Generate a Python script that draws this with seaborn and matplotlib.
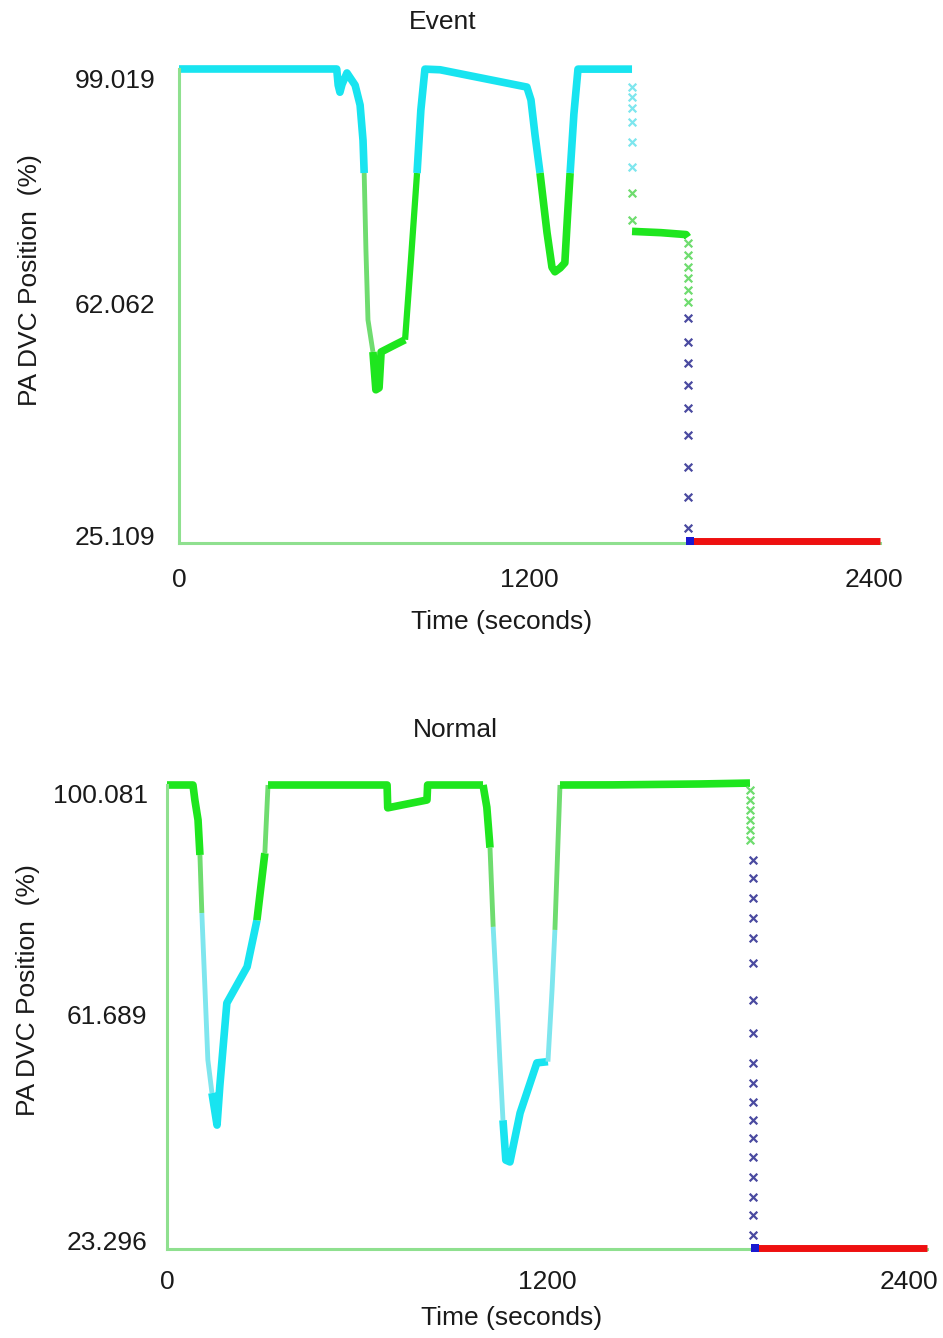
import numpy as np
import matplotlib
matplotlib.use("Agg")
import matplotlib.pyplot as plt
from matplotlib.transforms import ScaledTranslation
import seaborn as sns

# ---------------- data: "Event" ----------------
ev_yticks = [25.109, 62.062, 99.019]
ev_cyan_a_t = [0, 540, 545, 551, 558, 575, 603, 620, 630, 634]
ev_cyan_a_v = [99.02, 99.02, 96.5, 95.4, 96.6, 98.4, 96.5, 93.4, 87.9, 82.8]
ev_green_a_t = [634, 640, 647, 664]
ev_green_a_v = [82.8, 70.8, 59.9, 54.9]
ev_green_b_t = [664, 674, 685, 692, 739, 774]
ev_green_b_v = [54.9, 49.0, 49.3, 54.9, 56.0, 56.8]
ev_green_c_t = [774, 794, 815]
ev_green_c_v = [56.8, 69.2, 82.8]
ev_cyan_b_t = [815, 828, 842, 894, 1191, 1205, 1219, 1236]
ev_cyan_b_v = [82.8, 92.6, 99.0, 98.9, 96.2, 94.2, 88.7, 82.8]
ev_green_d_t = [1236, 1260, 1277, 1287, 1305, 1321, 1330, 1339]
ev_green_d_v = [82.8, 73.5, 68.1, 67.4, 68.0, 68.8, 76.0, 82.8]
ev_cyan_c_t = [1339, 1352, 1366, 1551]
ev_cyan_c_v = [82.8, 92.0, 99.0, 99.0]
ev_drop1_t = 1551
ev_cyan_x_v = [96.2, 94.6, 92.9, 90.8, 87.6, 83.7]
ev_green_x1_v = [79.7, 75.5]
ev_green_e_t = [1551, 1650, 1736, 1742]
ev_green_e_v = [73.7, 73.5, 73.2, 72.8]
ev_drop2_t = 1742
ev_green_x2_v = [71.9, 70.0, 68.1, 66.4, 64.6, 62.7]
ev_blue_x_v = [60.2, 56.4, 53.2, 49.8, 46.2, 42.0, 37.0, 32.3, 27.5]
ev_end_t = 1749
ev_end_v = 25.35
ev_red_t = [1749, 2400]
ev_red_v = [25.35, 25.35]

# ---------------- data: "Normal" ----------------
no_yticks = [23.296, 61.689, 100.081]
no_green_a_t = [0, 82, 88, 98, 104]
no_green_a_v = [100.08, 100.08, 97.6, 94.3, 88.5]
no_green_b_t = [104, 110]
no_green_b_v = [88.5, 78.9]
no_cyan_a_t = [110, 120, 129, 142]
no_cyan_a_v = [78.9, 66.2, 54.6, 49.1]
no_cyan_b_t = [142, 158, 167, 189, 253, 284]
no_cyan_b_v = [49.1, 43.8, 50.4, 64.0, 70.0, 77.7]
no_green_c_t = [284, 309]
no_green_c_v = [77.7, 88.8]
no_green_d_t = [309, 319]
no_green_d_v = [88.8, 100.08]
no_green_e_t = [319, 695, 697, 821, 823, 998]
no_green_e_v = [100.08, 100.08, 96.3, 97.6, 100.08, 100.08]
no_green_f_t = [998, 1010, 1020]
no_green_f_v = [100.08, 96.4, 89.7]
no_green_g_t = [1020, 1030]
no_green_g_v = [89.7, 76.6]
no_cyan_c_t = [1030, 1042, 1051, 1061]
no_cyan_c_v = [76.6, 64.5, 54.6, 44.6]
no_cyan_d_t = [1061, 1070, 1083, 1115, 1168, 1203]
no_cyan_d_v = [44.6, 38.0, 37.7, 45.8, 54.1, 54.3]
no_cyan_e_t = [1203, 1216, 1225]
no_cyan_e_v = [54.3, 66.2, 76.1]
no_green_h_t = [1225, 1241]
no_green_h_v = [76.1, 100.08]
no_green_i_t = [1241, 1408, 1683, 1841]
no_green_i_v = [100.08, 100.1, 100.25, 100.4]
no_drop_green_t = 1841
no_green_x_v = [99.25, 97.6, 95.9, 94.3, 92.6, 91.0]
no_drop_blue_t = 1850
no_blue_x_v = [87.67, 84.69, 81.38, 78.07, 74.76, 70.62, 64.50, 59.04, 54.04,
               50.73, 47.62, 44.64, 41.62, 38.52, 35.21, 31.90, 28.92, 25.61]
no_end_t = 1857
no_end_v = 23.46
no_red_t = [1857, 2400]
no_red_v = [23.46, 23.46]

x_ticks = [0, 1200, 2400]

# ---------------- style ----------------
sns.set_theme(style="white")
plt.rcParams["font.family"] = ["Liberation Sans", "DejaVu Sans"]

GREEN = "#1ee61e"
GREEN_L = "#6fdc6f"
CYAN = "#18e4f0"
CYAN_L = "#7ee6ee"
BLUE = "#4a4aa0"
BLUE_SQ = "#1a1ad0"
RED = "#ee1010"
SPINE = "#8fe08f"
FS = 19
LW = 5.5

W, H = 943, 1338
fig = plt.figure(figsize=(W / 100, H / 100), dpi=100)


def px_axes(l, r, top, bot):
    return fig.add_axes([l / W, 1 - bot / H, (r - l) / W, (bot - top) / H])


def seg(ax, t, v, color, lw=LW, alpha=1.0, z=2):
    sns.lineplot(x=t, y=v, ax=ax, color=color, lw=lw, alpha=alpha,
                 sort=False, estimator=None, clip_on=False,
                 solid_capstyle="butt", zorder=z)


def xmarks(ax, t, v, color, size=30):
    sns.scatterplot(x=np.full(len(v), t), y=v, ax=ax, marker="x",
                    color=color, s=size, linewidth=1.6, clip_on=False,
                    zorder=4)


def shift(text, dx_px, dy_px):
    text.set_transform(text.get_transform() +
                       ScaledTranslation(dx_px / 100, dy_px / 100, fig.dpi_scale_trans))


def style_axes(ax, yticks, ypad, xpad, dy_top, dy_bot, dx_last):
    ax.set_xlim(0, 2400)
    ax.set_ylim(yticks[0], yticks[-1])
    for s in ["top", "right"]:
        ax.spines[s].set_visible(False)
    for s in ["left", "bottom"]:
        ax.spines[s].set_color(SPINE)
        ax.spines[s].set_linewidth(2.2)
    ax.set_xticks(x_ticks)
    ax.set_xticklabels([str(v) for v in x_ticks])
    ax.set_yticks(yticks)
    ax.set_yticklabels([f"{v:.3f}" for v in yticks])
    ax.tick_params(axis="both", which="major", direction="out", length=3,
                   width=1.5, color=SPINE, labelsize=FS, labelcolor="#1a1a1a")
    ax.tick_params(axis="y", pad=ypad)
    ax.tick_params(axis="x", pad=xpad)
    ax.set_xlabel("")
    ax.set_ylabel("")
    ax.grid(False)
    yt = ax.yaxis.get_major_ticks()
    shift(yt[0].label1, 0, dy_bot)
    shift(yt[-1].label1, 0, dy_top)
    xt = ax.xaxis.get_major_ticks()
    shift(xt[-1].label1, dx_last, 0)
    ax.set_facecolor("white")


# ---------------- Event ----------------
ax1 = px_axes(179, 880, 69, 543)
seg(ax1, ev_cyan_a_t, ev_cyan_a_v, CYAN)
seg(ax1, ev_green_a_t, ev_green_a_v, GREEN_L, lw=3.5)
seg(ax1, ev_green_b_t, ev_green_b_v, GREEN)
seg(ax1, ev_green_c_t, ev_green_c_v, GREEN, lw=4.5)
seg(ax1, ev_cyan_b_t, ev_cyan_b_v, CYAN)
seg(ax1, ev_green_d_t, ev_green_d_v, GREEN)
seg(ax1, ev_cyan_c_t, ev_cyan_c_v, CYAN)
xmarks(ax1, ev_drop1_t, ev_cyan_x_v, CYAN_L)
xmarks(ax1, ev_drop1_t, ev_green_x1_v, GREEN_L)
seg(ax1, ev_green_e_t, ev_green_e_v, GREEN)
xmarks(ax1, ev_drop2_t, ev_green_x2_v, GREEN_L)
xmarks(ax1, ev_drop2_t, ev_blue_x_v, BLUE)
seg(ax1, ev_red_t, ev_red_v, RED, lw=5, z=3)
sns.scatterplot(x=[ev_end_t], y=[ev_end_v], ax=ax1, marker="s", color=BLUE_SQ,
                s=34, linewidth=0, clip_on=False, zorder=5)
style_axes(ax1, ev_yticks, ypad=14, xpad=15, dy_top=-12, dy_bot=5, dx_last=-6)
for t in ax1.yaxis.get_major_ticks():
    t.label1.set_verticalalignment("center")

# ---------------- Normal ----------------
ax2 = px_axes(167, 927, 785, 1249)
seg(ax2, no_green_a_t, no_green_a_v, GREEN)
seg(ax2, no_green_b_t, no_green_b_v, GREEN_L, lw=3.5)
seg(ax2, no_cyan_a_t, no_cyan_a_v, CYAN_L, lw=3.5)
seg(ax2, no_cyan_b_t, no_cyan_b_v, CYAN)
seg(ax2, no_green_c_t, no_green_c_v, GREEN)
seg(ax2, no_green_d_t, no_green_d_v, GREEN_L, lw=3.5)
seg(ax2, no_green_e_t, no_green_e_v, GREEN)
seg(ax2, no_green_f_t, no_green_f_v, GREEN)
seg(ax2, no_green_g_t, no_green_g_v, GREEN_L, lw=3.5)
seg(ax2, no_cyan_c_t, no_cyan_c_v, CYAN_L, lw=3.5)
seg(ax2, no_cyan_d_t, no_cyan_d_v, CYAN)
seg(ax2, no_cyan_e_t, no_cyan_e_v, CYAN_L, lw=3.5)
seg(ax2, no_green_h_t, no_green_h_v, GREEN_L, lw=3.5)
seg(ax2, no_green_i_t, no_green_i_v, GREEN)
xmarks(ax2, no_drop_green_t, no_green_x_v, GREEN_L)
xmarks(ax2, no_drop_blue_t, no_blue_x_v, BLUE)
seg(ax2, no_red_t, no_red_v, RED, lw=5, z=3)
sns.scatterplot(x=[no_end_t], y=[no_end_v], ax=ax2, marker="s", color=BLUE_SQ,
                s=34, linewidth=0, clip_on=False, zorder=5)
style_axes(ax2, no_yticks, ypad=11, xpad=12, dy_top=-11, dy_bot=6, dx_last=-18)
for t in ax2.yaxis.get_major_ticks():
    t.label1.set_verticalalignment("center")

# ---------------- titles and axis labels ----------------
def ftext(x, y, s, rot=0):
    fig.text(x / W, 1 - y / H, s, ha="center", va="center", rotation=rot,
             fontsize=FS, color="#1a1a1a")

ftext(443, 22, "Event")
ftext(502, 622, "Time (seconds)")
ftext(30, 280, "PA DVC Position  (%)", rot=90)
ftext(455, 730, "Normal")
ftext(512, 1318, "Time (seconds)")
ftext(28, 990, "PA DVC Position  (%)", rot=90)

fig.savefig("out.png", dpi=100, facecolor="white")
